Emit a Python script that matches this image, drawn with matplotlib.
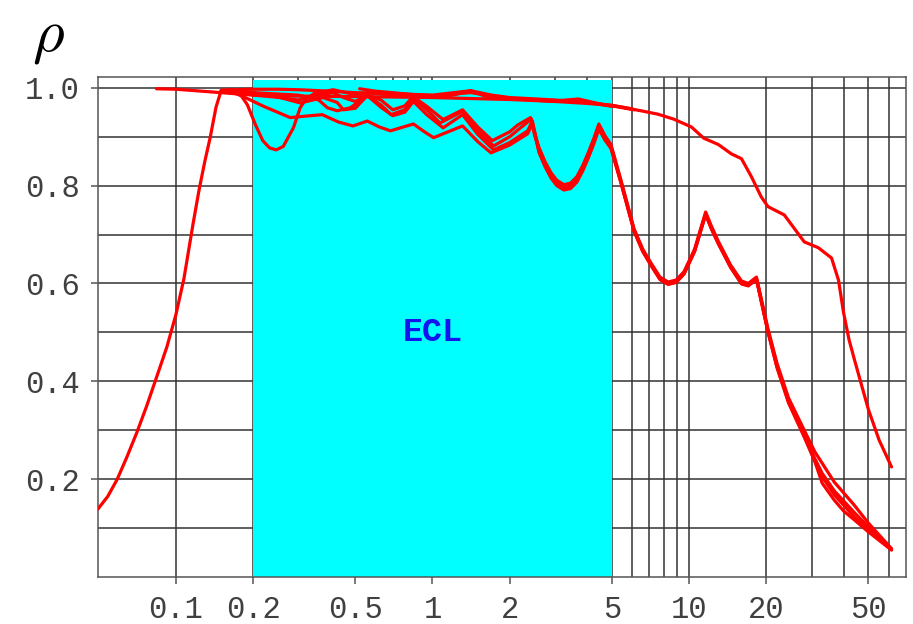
import matplotlib
matplotlib.use("Agg")
import matplotlib.pyplot as plt
from matplotlib.ticker import FixedLocator, NullFormatter

plt.rcParams['mathtext.fontset'] = 'cm'

# ---- data ----
# steep curve rising from the left edge
x_rise = [0.0497, 0.0543, 0.0591, 0.0644, 0.0704, 0.0770, 0.0843, 0.0922, 0.100, 0.1075,
          0.1165, 0.123, 0.1297, 0.136, 0.1433, 0.150, 0.165, 0.175, 0.190, 0.204, 0.218,
          0.232, 0.246, 0.262, 0.287, 0.305, 0.320, 0.345, 0.41, 0.50, 0.56, 0.70, 0.84,
          1.00, 1.20, 1.41, 1.60, 2.00, 3.00, 3.70, 4.00, 4.50, 5.00]
rho_rise = [0.139, 0.165, 0.200, 0.245, 0.295, 0.350, 0.410, 0.470, 0.536, 0.610,
            0.720, 0.790, 0.850, 0.898, 0.960, 0.994, 0.996, 0.993, 0.965, 0.925, 0.892,
            0.877, 0.873, 0.880, 0.918, 0.959, 0.976, 0.988, 0.996, 0.986, 0.990, 0.985, 0.986,
            0.981, 0.985, 0.994, 0.983, 0.978, 0.972, 0.976, 0.970, 0.966, 0.962]

# long top curve
x_top = [0.084, 0.10, 0.15, 0.20, 0.30, 0.50, 1.0, 2.0, 3.0, 4.0, 5.0, 5.5, 6.49, 7.56, 8.7,
         10.2, 11.4, 13.0, 14.6, 16.0, 17.5, 19.1, 20.3, 23.5, 28.1, 31.9, 35.9, 38.2,
         40.0, 42.0, 44.1, 47.0, 50.0, 55.0, 61.5]
rho_top = [0.998, 0.997, 0.990, 0.985, 0.983, 0.982, 0.980, 0.976, 0.972, 0.968, 0.964, 0.960,
           0.953, 0.946, 0.936, 0.920, 0.897, 0.884, 0.865, 0.855, 0.818, 0.777, 0.757,
           0.740, 0.685, 0.673, 0.652, 0.607, 0.540, 0.485, 0.444, 0.392, 0.342, 0.280, 0.225]

# short curves in the top bundle
x_top2 = [0.52, 0.60, 0.70, 0.84, 1.00, 1.41, 2.00, 3.00, 3.70, 4.50, 5.00, 6.10]
rho_top2 = [0.998, 0.993, 0.990, 0.986, 0.984, 0.990, 0.978, 0.973, 0.977, 0.967, 0.963, 0.955]

x_top3 = [0.15, 0.20, 0.25, 0.30, 0.40, 0.50, 0.70, 1.00, 1.41, 1.70, 2.00, 3.00, 4.00, 5.00, 6.00]
rho_top3 = [0.995, 0.997, 0.997, 0.996, 0.993, 0.990, 0.988, 0.985, 0.994, 0.985, 0.980, 0.975,
            0.970, 0.964, 0.957]

# curves with the wiggles inside the ECL band, then the big dip
x_b1 = [0.16, 0.20, 0.255, 0.30, 0.36, 0.41, 0.45, 0.50, 0.56, 0.63, 0.70, 0.78, 0.84, 0.95,
        1.10, 1.31, 1.50, 1.71, 2.00, 2.15, 2.41, 2.50, 2.60, 2.75, 2.90, 3.05, 3.25, 3.45,
        3.65, 3.85, 4.05, 4.25, 4.45, 4.70, 4.96, 5.42, 6.10, 6.60, 7.10, 7.70, 8.28, 8.90,
        9.55, 10.5, 11.6, 12.2, 13.0, 14.5, 16.0, 17.0, 18.3, 20.3, 22.0, 24.4, 28.1, 30.9,
        36.8, 44.0, 50.0, 61.5]
rho_b1 = [0.994, 0.990, 0.980, 0.975, 0.985, 0.990, 0.980, 0.972, 0.985, 0.975, 0.955, 0.963,
          0.982, 0.962, 0.935, 0.955, 0.920, 0.892, 0.910, 0.924, 0.939, 0.907, 0.878, 0.848,
          0.826, 0.811, 0.802, 0.805, 0.818, 0.841, 0.868, 0.896, 0.926, 0.902, 0.884, 0.812,
          0.712, 0.670, 0.642, 0.613, 0.603, 0.607, 0.624, 0.670, 0.746, 0.718, 0.686, 0.638,
          0.605, 0.600, 0.613, 0.507, 0.437, 0.366, 0.300, 0.256, 0.194, 0.147, 0.110, 0.058]

x_b2 = [0.16, 0.20, 0.255, 0.305, 0.375, 0.425, 0.45, 0.50, 0.557, 0.63, 0.69, 0.78, 0.843,
        0.95, 1.07, 1.31, 1.50, 1.73, 2.00, 2.20, 2.43, 2.50, 2.60, 2.75, 2.90, 3.05, 3.25,
        3.45, 3.65, 3.85, 4.05, 4.25, 4.45, 4.70, 4.96, 5.42, 6.10, 6.60, 7.10, 7.70, 8.28,
        8.90, 9.55, 10.5, 11.6, 12.2, 13.0, 14.5, 16.0, 17.0, 18.3, 20.3, 22.0, 24.4, 28.1,
        30.9, 33.0, 36.8, 44.0, 50.0, 61.5]
rho_b2 = [0.994, 0.985, 0.980, 0.969, 0.980, 0.970, 0.955, 0.958, 0.984, 0.965, 0.945, 0.955,
          0.978, 0.955, 0.928, 0.952, 0.912, 0.881, 0.900, 0.918, 0.936, 0.903, 0.874, 0.844,
          0.822, 0.807, 0.798, 0.801, 0.814, 0.837, 0.864, 0.892, 0.922, 0.899, 0.880, 0.809,
          0.709, 0.667, 0.639, 0.610, 0.600, 0.604, 0.621, 0.667, 0.743, 0.714, 0.683, 0.635,
          0.601, 0.597, 0.610, 0.503, 0.432, 0.360, 0.292, 0.242, 0.212, 0.176, 0.132, 0.102,
          0.057]

x_b3 = [0.16, 0.20, 0.30, 0.36, 0.39, 0.425, 0.478, 0.557, 0.63, 0.70, 0.78, 0.843, 0.95,
        1.10, 1.31, 1.50, 1.73, 2.00, 2.35, 2.45, 2.52, 2.60, 2.75, 2.90, 3.05, 3.25, 3.45,
        3.65, 3.85, 4.05, 4.25, 4.45, 4.70, 4.96, 5.42, 6.10, 6.60, 7.10, 7.70, 8.28, 8.90,
        9.55, 10.5, 11.6, 12.2, 13.0, 14.5, 16.0, 17.0, 18.3, 20.3, 22.0, 24.4, 28.1, 30.9,
        33.0, 36.8, 40.0, 44.0, 50.0, 55.0, 61.5]
rho_b3 = [0.994, 0.990, 0.985, 0.975, 0.959, 0.953, 0.959, 0.984, 0.960, 0.943, 0.950, 0.972,
          0.945, 0.918, 0.945, 0.905, 0.873, 0.888, 0.912, 0.932, 0.903, 0.870, 0.840, 0.818,
          0.803, 0.794, 0.797, 0.810, 0.833, 0.860, 0.888, 0.918, 0.895, 0.878, 0.808, 0.708,
          0.666, 0.638, 0.609, 0.599, 0.603, 0.620, 0.666, 0.742, 0.713, 0.682, 0.634, 0.600,
          0.596, 0.609, 0.500, 0.428, 0.356, 0.286, 0.236, 0.192, 0.157, 0.135, 0.117, 0.092,
          0.075, 0.055]

x_d2 = [0.16, 0.183, 0.22, 0.279, 0.32, 0.372, 0.43, 0.49, 0.557, 0.62, 0.686, 0.843, 0.93,
        1.01, 1.15, 1.31, 1.50, 1.69, 2.00, 2.35, 2.45, 2.52, 2.60, 2.75, 2.90, 3.05, 3.25,
        3.45, 3.65, 3.85, 4.05, 4.25, 4.45, 4.70, 4.96, 5.42, 6.10, 6.60, 7.10, 7.70, 8.28,
        8.90, 9.55, 10.5, 11.6, 12.2, 13.0, 14.5, 16.0, 17.0, 18.3, 20.3, 22.0, 24.4, 28.1,
        30.9, 33.0, 36.8, 44.0, 50.0, 61.5]
rho_d2 = [0.994, 0.982, 0.962, 0.939, 0.942, 0.945, 0.930, 0.922, 0.932, 0.920, 0.912, 0.926,
          0.910, 0.898, 0.910, 0.922, 0.890, 0.867, 0.883, 0.906, 0.928, 0.900, 0.868, 0.838,
          0.815, 0.800, 0.791, 0.794, 0.807, 0.830, 0.857, 0.885, 0.916, 0.893, 0.876, 0.806,
          0.707, 0.665, 0.637, 0.608, 0.598, 0.602, 0.619, 0.665, 0.741, 0.712, 0.681, 0.633,
          0.599, 0.595, 0.608, 0.502, 0.430, 0.358, 0.288, 0.238, 0.205, 0.168, 0.123, 0.095,
          0.056]

curves = [(x_rise, rho_rise), (x_top, rho_top), (x_top2, rho_top2), (x_top3, rho_top3),
          (x_b1, rho_b1), (x_b2, rho_b2), (x_b3, rho_b3), (x_d2, rho_d2)]

ecl_range = (0.2, 5.0)
x_major = [0.1, 0.2, 0.5, 1, 2, 5, 10, 20, 50]
x_major_labels = ['0.1', '0.2', '0.5', '1', '2', '5', '10', '20', '50']
x_grid = [0.1, 0.2, 0.3, 0.4, 0.5, 0.6, 0.7, 0.8, 0.9, 1, 2, 3, 4, 5, 6, 7, 8, 9,
          10, 20, 30, 40, 50, 60]
y_major = [0.2, 0.4, 0.6, 0.8, 1.0]
y_grid = [0.1, 0.2, 0.3, 0.4, 0.5, 0.6, 0.7, 0.8, 0.9, 1.0]

# ---- figure ----
fig = plt.figure(figsize=(9.13, 6.24), dpi=100)
ax = fig.add_axes([0.1073, 0.0753, 0.885, 0.8013])
ax.set_xscale('log')
ax.set_xlim(0.0497, 70)
ax.set_ylim(0, 1.022)

ax.set_axisbelow(True)
for v in x_grid:
    ax.axvline(v, color='#333333', lw=1.1, zorder=0.5)
for v in y_grid:
    ax.axhline(v, color='#333333', lw=1.1, zorder=0.5)

ax.axvspan(ecl_range[0], ecl_range[1], ymin=0, ymax=1.016 / 1.022,
           color='#00ffff', lw=0, zorder=1)

for xs, ys in curves:
    ax.plot(xs, ys, color='#ff0000', lw=2.3, zorder=3,
            solid_joinstyle='round', solid_capstyle='round')

ax.text(1.0, 0.5, 'ECL', color='#1414f0', fontsize=24, fontweight='bold',
        family='Liberation Mono', ha='center', va='center', zorder=4)

ax.xaxis.set_major_locator(FixedLocator(x_major))
ax.set_xticklabels(x_major_labels)
ax.xaxis.set_minor_locator(FixedLocator([]))
ax.xaxis.set_minor_formatter(NullFormatter())
ax.yaxis.set_major_locator(FixedLocator(y_major))
ax.set_yticklabels(['%.1f' % v for v in y_major])

for lab in ax.get_xticklabels() + ax.get_yticklabels():
    lab.set_family('Liberation Mono')
    lab.set_fontsize(22)
    lab.set_color('#404040')
ax.tick_params(axis='both', which='major', direction='out', length=5, width=1.1,
               color='#555555')
ax.tick_params(axis='x', pad=8)
ax.tick_params(axis='y', pad=8)

for sp in ax.spines.values():
    sp.set_color('#555555')
    sp.set_linewidth(1.1)

fig.text(48 / 913, 1 - 36 / 624, r'$\rho$', fontsize=44, ha='center', va='center')

fig.savefig('out.png', dpi=100)
